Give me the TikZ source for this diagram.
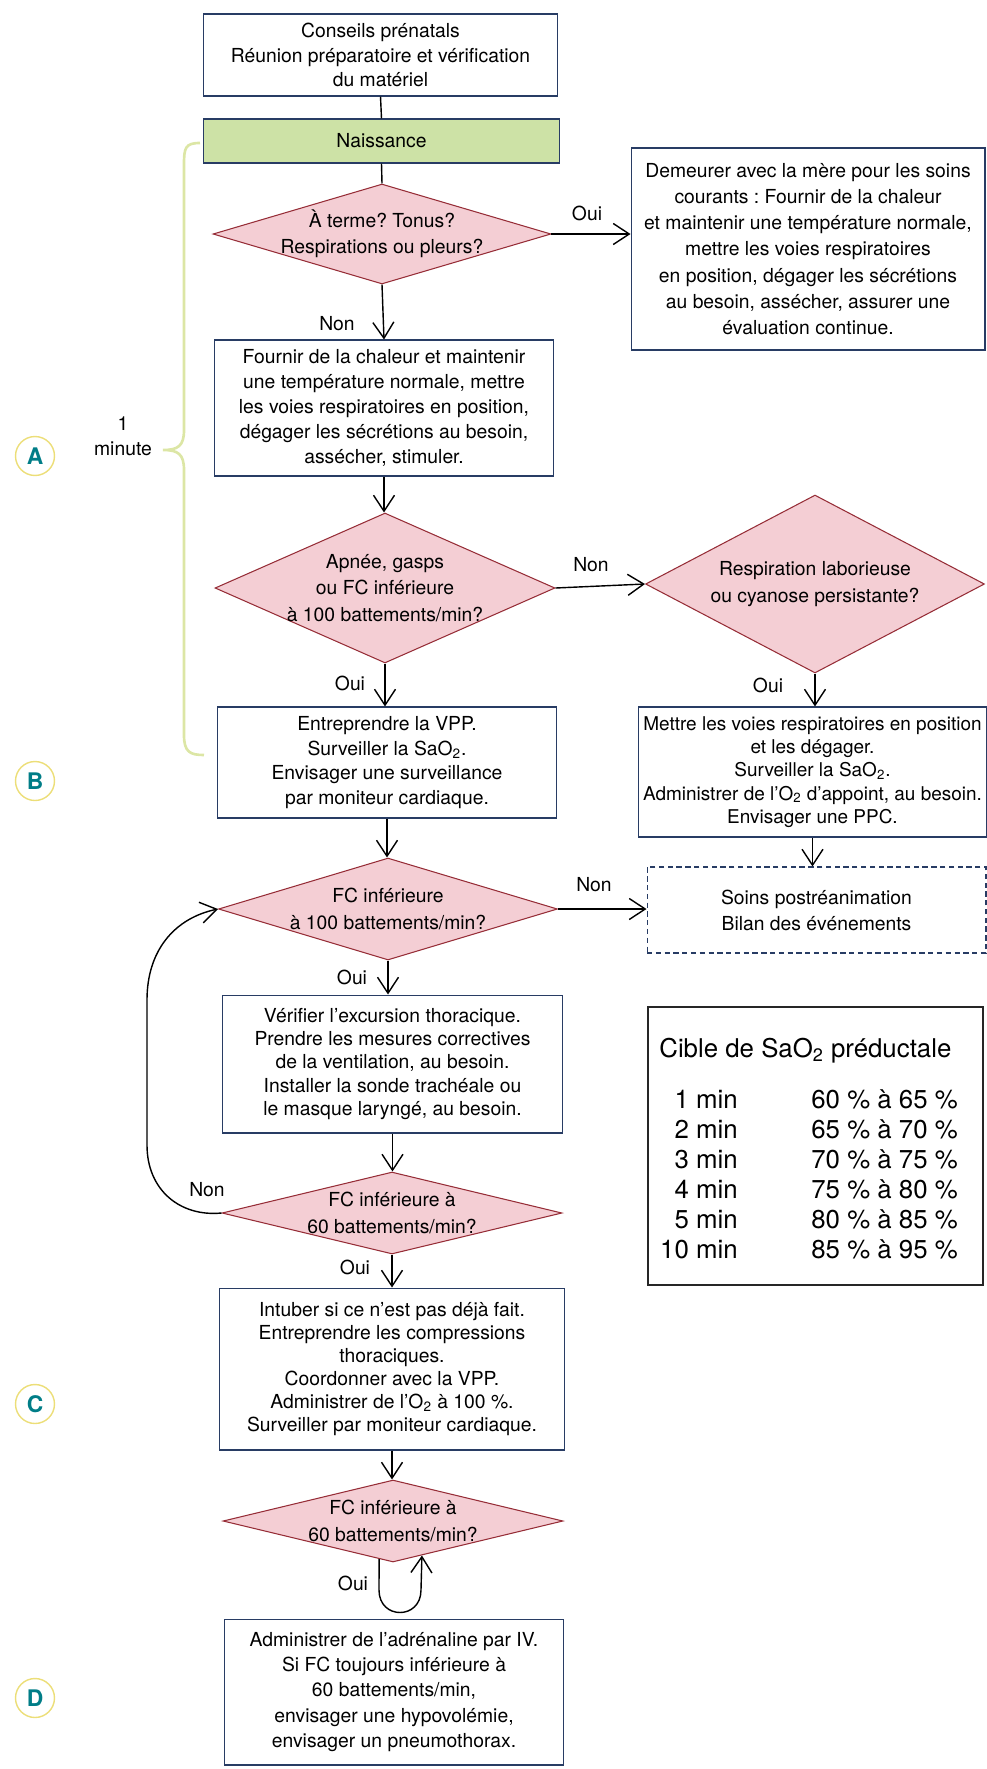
\documentclass[tikz,border=0pt]{standalone}
\usepackage{fontspec}
\setmainfont{TeX Gyre Heros}
\usepackage{tikz}
\usetikzlibrary{shapes.geometric,arrows.meta}
\definecolor{boxline}{RGB}{40,60,100}
\definecolor{decline}{RGB}{150,45,55}
\definecolor{decfill}{RGB}{244,206,212}
\definecolor{naisfill}{RGB}{205,226,166}
\definecolor{bracegreen}{RGB}{220,230,165}
\definecolor{ringyellow}{RGB}{236,222,120}
\definecolor{letterteal}{RGB}{0,125,135}
\newcommand{\Odeux}{O\textsubscript{2}}
\frenchspacing

\begin{document}
\begin{tikzpicture}[
        x=0.02cm, y=-0.02cm,
        every node/.style={font=\fontsize{11}{13.9}\selectfont},
        box/.style={rectangle, draw=boxline, line width=0.6pt, fill=white, align=center, inner sep=2pt},
        decision/.style={diamond, draw=decline, line width=0.6pt, fill=decfill, inner sep=0pt},
        dectext/.style={align=center, font=\fontsize{11}{14.9}\selectfont},
        phase/.style={circle, draw=ringyellow, line width=0.8pt, minimum size=0.78cm, inner sep=0pt,
            text=letterteal, font=\fontsize{13}{13}\selectfont\bfseries},
        tabtext/.style={inner sep=0pt, font=\fontsize{14.7}{16}\selectfont},
        link/.style={->, line width=0.8pt},
        >={Straight Barb[length=3.2mm,width=4.2mm]}
    ]
        \useasboundingbox (0,0) rectangle (987,1769);

        % Main column
        \node[box, minimum width=7.1cm, minimum height=1.64cm] (prenatal) at (380.5,55)
            {Conseils prénatals\\Réunion préparatoire et vérification\\du matériel};
        \node[box, fill=naisfill, minimum width=7.14cm, minimum height=0.88cm] (naissance) at (381.5,141) {Naissance};
        \node[decision, minimum width=6.76cm, minimum height=2cm,
            label={[dectext]center:À terme? Tonus?\\Respirations ou pleurs?}] (terme) at (382,234) {};
        \node[box, minimum width=6.8cm, minimum height=2.72cm, font=\fontsize{11}{14.2}\selectfont] (fournir) at (384,408)
            {Fournir de la chaleur et maintenir\\une température normale, mettre\\les voies respiratoires en position,\\dégager les sécrétions au besoin,\\assécher, stimuler.};
        \node[decision, minimum width=6.8cm, minimum height=3cm,
            label={[dectext]center:Apnée, gasps\\ou FC inférieure\\à 100 battements/min?}] (apnee) at (385,588) {};
        \node[box, minimum width=6.8cm, minimum height=2.22cm] (vpp) at (387,762.5)
            {Entreprendre la VPP.\\Surveiller la Sa\Odeux.\\Envisager une surveillance\\par moniteur cardiaque.};
        \node[decision, minimum width=6.78cm, minimum height=2.04cm,
            label={[dectext]center:FC inférieure\\à 100 battements/min?}] (fc100) at (388,909) {};
        \node[box, minimum width=6.82cm, minimum height=2.76cm, font=\fontsize{11}{13.3}\selectfont] (verifier) at (392.5,1064)
            {Vérifier l'excursion thoracique.\\Prendre les mesures correctives\\de la ventilation, au besoin.\\Installer la sonde trachéale ou\\le masque laryngé, au besoin.};
        \node[decision, minimum width=6.8cm, minimum height=1.64cm,
            label={[dectext]center:FC inférieure à\\60 battements/min?}] (fc60a) at (392,1213) {};
        \node[box, minimum width=6.92cm, minimum height=3.24cm, font=\fontsize{11}{13.2}\selectfont] (intuber) at (392,1369)
            {Intuber si ce n'est pas déjà fait.\\Entreprendre les compressions\\thoraciques.\\Coordonner avec la VPP.\\Administrer de l'\Odeux{} à 100~\%.\\Surveiller par moniteur cardiaque.};
        \node[decision, minimum width=6.8cm, minimum height=1.64cm,
            label={[dectext]center:FC inférieure à\\60 battements/min?}] (fc60b) at (393,1521) {};
        \node[box, minimum width=6.8cm, minimum height=2.92cm, font=\fontsize{11}{14.3}\selectfont] (adre) at (394,1692)
            {Administrer de l'adrénaline par IV.\\Si FC toujours inférieure à\\60 battements/min,\\envisager une hypovolémie,\\envisager un pneumothorax.};

        % Right column
        \node[box, minimum width=7.08cm, minimum height=4.04cm, font=\fontsize{11}{14.9}\selectfont] (demeurer) at (808,249)
            {Demeurer avec la mère pour les soins\\courants : Fournir de la chaleur\\et maintenir une température normale,\\mettre les voies respiratoires\\en position, dégager les sécrétions\\au besoin, assécher, assurer une\\évaluation continue.};
        \node[decision, minimum width=6.78cm, minimum height=3.56cm,
            label={[dectext]center:Respiration laborieuse\\ou cyanose persistante?}] (laborieuse) at (815,584) {};
        \node[box, minimum width=6.96cm, minimum height=2.6cm, font=\fontsize{10.8}{13.2}\selectfont] (mettre) at (812.5,772)
            {Mettre les voies respiratoires en position\\et les dégager.\\Surveiller la Sa\Odeux.\\Administrer de l'\Odeux{} d'appoint, au besoin.\\Envisager une PPC.};
        \node[box, densely dashed, minimum width=6.78cm, minimum height=1.72cm, font=\fontsize{11}{14.8}\selectfont] (soins) at (816.5,910)
            {Soins postréanimation\\Bilan des événements};

        % Connections
        \draw[line width=0.8pt] (prenatal.south) -- (naissance.north);
        \draw[line width=0.8pt] (naissance.south) -- (terme.north);
        \draw[link] (terme.east) -- (terme.east -| demeurer.west);
        \draw[link] (terme.south) -- (fournir.north);
        \draw[link] (fournir.south) -- (fournir.south |- apnee.north);
        \draw[link] (apnee.east) -- (laborieuse.west);
        \draw[link] (apnee.south) -- (apnee.south |- vpp.north);
        \draw[link] (laborieuse.south) -- (laborieuse.south |- mettre.north);
        \draw[link] (vpp.south) -- (vpp.south |- fc100.north);
        \draw[link] (mettre.south) -- (mettre.south |- soins.north);
        \draw[link] (fc100.east) -- (fc100.east -| soins.west);
        \draw[link] (fc100.south) -- (fc100.south |- verifier.north);
        \draw[link] (verifier.south) -- (verifier.south |- fc60a.north);
        \draw[link] (fc60a.west) .. controls (180,1217) and (147,1190) .. (147,1145)
            -- (147,1000) .. controls (147,950) and (175,918) .. (fc100.west);
        \draw[link] (fc60a.south) -- (fc60a.south |- intuber.north);
        \draw[link] (intuber.south) -- (intuber.south |- fc60b.north);
        \coordinate (uloop-l) at (379,1590);
        \coordinate (uloop-r) at (421,1590);
        \draw[link] (fc60b.250) -- (uloop-l) .. controls (379,1620) and (421,1620) .. (uloop-r) -- (fc60b.310);

        % Labels
        \node (oui-1) at (587,213) {Oui};
        \node (non-1) at (337,324) {Non};
        \node (non-2) at (591,565) {Non};
        \node (oui-2) at (350,683) {Oui};
        \node (oui-3) at (768,685) {Oui};
        \node (non-3) at (594,885) {Non};
        \node (oui-4) at (352,977) {Oui};
        \node (non-4) at (207,1190) {Non};
        \node (oui-5) at (355,1267) {Oui};
        \node (oui-6) at (353,1583) {Oui};

        % One minute brace
        \draw[bracegreen, line width=1.5pt] (200,143) .. controls (185,143) and (184,148) .. (184,165)
            -- (184,430) .. controls (184,446) and (178,450) .. (163,450)
            .. controls (178,450) and (184,454) .. (184,470)
            -- (184,735) .. controls (184,752) and (190,755) .. (204,755);
        \node[align=center, font=\fontsize{11}{14.2}\selectfont] (duree) at (123,436) {1\\minute};

        % Steps
        \foreach \l/\y in {A/456, B/781, C/1404, D/1698}
            \node[phase] (phase-\l) at (35,\y) {\l};

        % Target table
        \node[draw=black!85, line width=1.6pt, minimum width=6.7cm, minimum height=5.56cm] (cible) at (815.5,1146) {};
        \node[tabtext, anchor=base west] (cible-titre) at (659,1057) {Cible de Sa\Odeux{} préductale};
        \foreach \t/\v [count=\i] in {1 min/60 \% à 65 \%, 2 min/65 \% à 70 \%, 3 min/70 \% à 75 \%,
                4 min/75 \% à 80 \%, 5 min/80 \% à 85 \%, 10 min/85 \% à 95 \%} {
            \node[tabtext, anchor=base east] (min-\i) at (738,{1078+30*\i}) {\t};
            \node[tabtext, anchor=base west] (val-\i) at (811,{1078+30*\i}) {\v};
        }
    \end{tikzpicture}
\end{document}
